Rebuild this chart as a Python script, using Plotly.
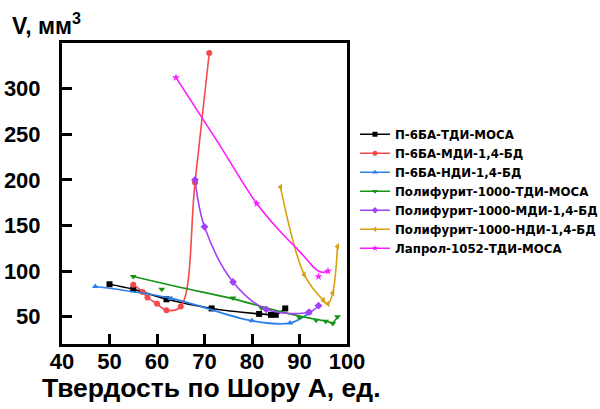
import plotly.graph_objects as go

# ---- data ----
names = ["П-6БА-ТДИ-МОСА", "П-6БА-МДИ-1,4-БД", "П-6БА-НДИ-1,4-БД",
         "Полифурит-1000-ТДИ-МОСА", "Полифурит-1000-МДИ-1,4-БД",
         "Полифурит-1000-НДИ-1,4-БД", "Лапрол-1052-ТДИ-МОСА"]

black_x = [50, 55, 62, 71.5, 81.5, 84, 85, 87]
black_y = [85.5, 80, 69, 59, 53, 52, 52, 59]

red_x = [55, 57, 58, 60, 62, 65, 68, 71]
red_y = [85, 77, 71, 64, 57, 61, 197, 339]

blue_x = [47, 63, 80, 88, 92]
blue_y = [83, 70, 45.5, 43, 54]

green_x = [55, 61, 76, 82, 90, 93.5, 95.5, 97, 98]
green_y = [94, 80, 70.5, 59.5, 49, 46, 45, 42.5, 50]
green_curve_x = [55, 65, 76, 86, 91, 94, 96, 97, 98]
green_curve_y = [94, 82, 69.5, 55.5, 49.5, 46.5, 44.5, 43.5, 50]

purple_x = [68, 70, 76, 83, 92, 94]
purple_y = [200, 148.5, 88, 58, 55, 62]

gold_x = [86, 91, 95, 96, 97, 98]
gold_y = [192, 96, 68, 64, 76, 127]

pink_x = [64, 81, 94, 96]
pink_y = [312, 174, 94, 100]
pink_curve_x = [64, 72.6, 81, 86, 90.1, 92, 93, 94, 95, 96]
pink_curve_y = [312, 243, 174, 143, 121, 110, 104, 100, 98.5, 100]

colors = ["#000000", "#F5494A", "#2E7FE8", "#149414", "#A340F5", "#D9A010", "#FF1AFF"]
symbols = ["square", "circle", "triangle-up", "triangle-down", "diamond", "triangle-left", "star"]

markers = [(black_x, black_y), (red_x, red_y), (blue_x, blue_y), (green_x, green_y),
           (purple_x, purple_y), (gold_x, gold_y), (pink_x, pink_y)]
curves = [(black_x, black_y), (red_x, red_y), (blue_x, blue_y), (green_curve_x, green_curve_y),
          (purple_x, purple_y), (gold_x, gold_y), (pink_curve_x, pink_curve_y)]

fig = go.Figure()
for i, name in enumerate(names):
    cx, cy = curves[i]
    mx, my = markers[i]
    fig.add_trace(go.Scatter(x=cx, y=cy, mode="lines", line=dict(color=colors[i], width=1.6, shape="spline", smoothing=1.0),
                             showlegend=False, hoverinfo="skip"))
    fig.add_trace(go.Scatter(x=mx, y=my, mode="markers", marker=dict(color=colors[i], symbol=symbols[i], size=6),
                             showlegend=False, name=name))
for i, name in enumerate(names):
    fig.add_trace(go.Scatter(x=[None], y=[None], mode="lines+markers", name=name,
                             line=dict(color=colors[i], width=1.6),
                             marker=dict(color=colors[i], symbol=symbols[i], size=5)))

axis_font = dict(family="Liberation Sans, Arial, sans-serif", size=22, color="black", weight="bold")

fig.update_layout(
    width=600, height=409,
    margin=dict(l=62, r=253, t=43, b=65, autoexpand=False),
    plot_bgcolor="white", paper_bgcolor="white",
    font=dict(family="Liberation Sans, Arial, sans-serif", color="black"),
    legend=dict(x=1.028, y=0.745, xanchor="left", yanchor="top", tracegroupgap=0,
                font=dict(family="DejaVu Sans, sans-serif", size=11.8, color="black", weight="bold"),
                bgcolor="rgba(0,0,0,0)", borderwidth=0),
    xaxis=dict(range=[40, 100], tickvals=[40, 50, 60, 70, 80, 90, 100],
               showline=True, linewidth=3, linecolor="black", mirror=True,
               ticks="inside", ticklen=10, tickwidth=3, tickcolor="black",
               showgrid=False, zeroline=False, tickfont=axis_font, ticklabelstandoff=-4),
    yaxis=dict(range=[20, 350], tickvals=[50, 100, 150, 200, 250, 300],
               showline=True, linewidth=3, linecolor="black", mirror=True,
               ticks="inside", ticklen=10, tickwidth=3, tickcolor="black",
               showgrid=False, zeroline=False, tickfont=axis_font, ticklabelstandoff=14),
    annotations=[
        dict(text="V, мм<sup>3</sup>", xref="paper", yref="paper", x=-0.1825, y=1.063,
             xanchor="left", yanchor="middle", showarrow=False,
             font=dict(family="Liberation Sans, Arial, sans-serif", size=23, color="black", weight="bold")),
        dict(text="Твердость по Шору А, ед.", xref="paper", yref="paper", x=0.526, y=-0.145,
             xanchor="center", yanchor="middle", showarrow=False,
             font=dict(family="Liberation Sans, Arial, sans-serif", size=26.5, color="black", weight="bold")),
    ],
)

fig.write_html("out.html")
